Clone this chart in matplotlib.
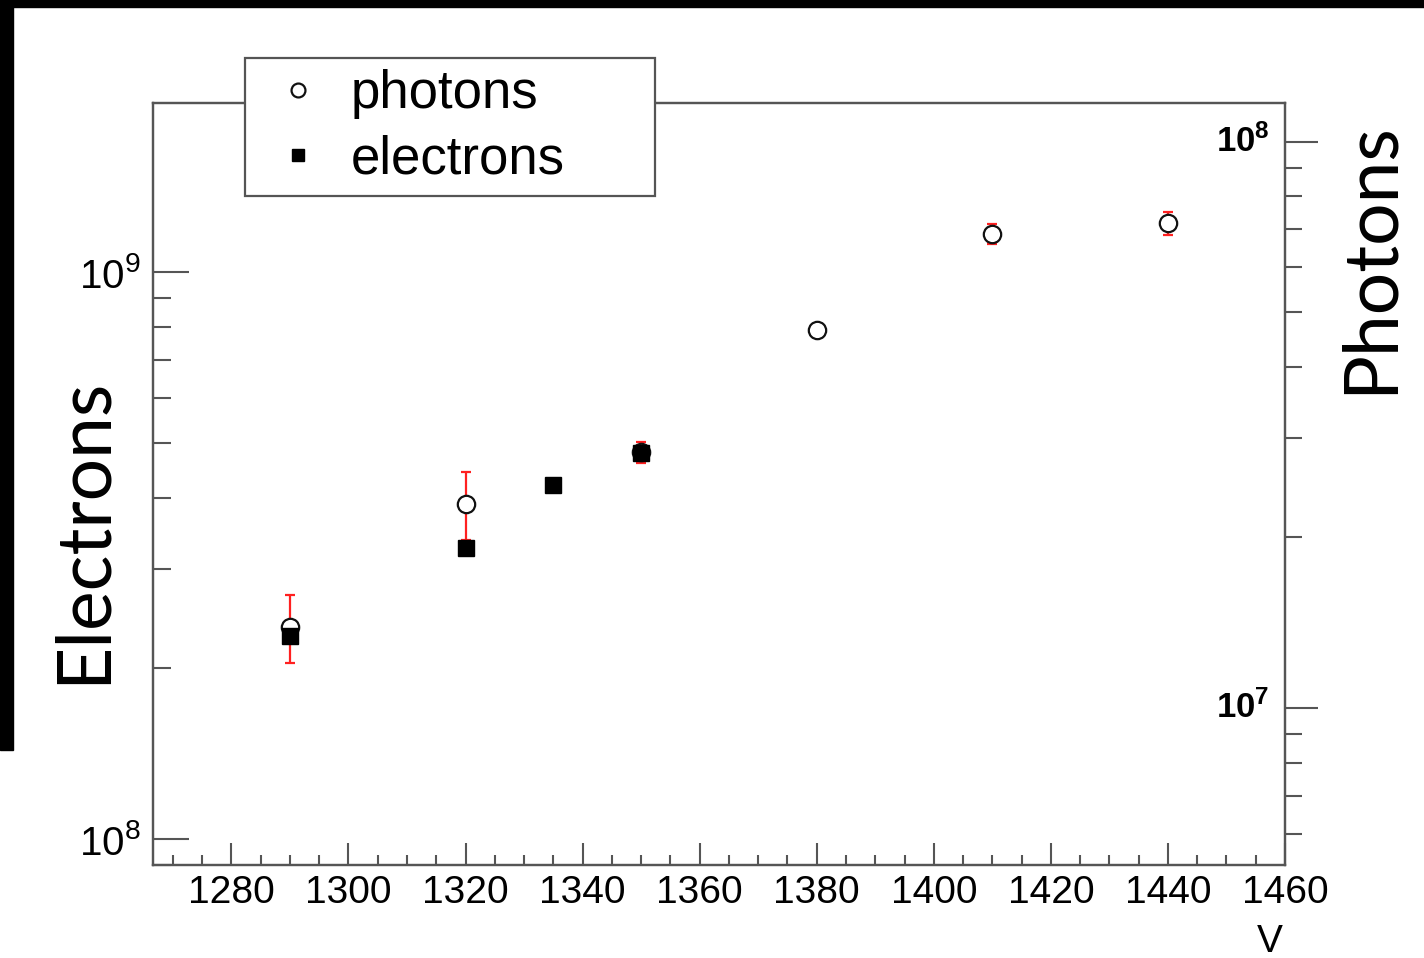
import numpy as np
import matplotlib
matplotlib.use("Agg")
import matplotlib.pyplot as plt
from matplotlib.ticker import LogLocator, NullFormatter, MultipleLocator, FixedLocator
from matplotlib.patches import Rectangle

plt.rcParams['font.family'] = ['Liberation Sans', 'DejaVu Sans']
plt.rcParams['mathtext.fontset'] = 'custom'
plt.rcParams['mathtext.rm'] = 'Liberation Sans'
plt.rcParams['mathtext.bf'] = 'Liberation Sans:bold'
plt.rcParams['mathtext.it'] = 'Liberation Sans:italic'

# ---- data ----
electron_v = [1290, 1320, 1335, 1350]
electrons = [2.28e8, 3.26e8, 4.21e8, 4.80e8]

photon_v = [1290, 1320, 1350, 1380, 1410, 1440]
photons = [1.39e7, 2.29e7, 2.83e7, 4.65e7, 6.88e7, 7.19e7]
photon_err_low = [0.19e7, 0.31e7, 0.12e7, 0.10e7, 0.28e7, 0.34e7]
photon_err_high = [0.19e7, 0.32e7, 0.12e7, 0.10e7, 0.28e7, 0.32e7]

x_ticks = [1280, 1300, 1320, 1340, 1360, 1380, 1400, 1420, 1440, 1460]
left_ticks = [1e8, 1e9]
left_labels = [r'$10^{8}$', r'$10^{9}$']
right_ticks = [1e7, 1e8]
right_labels = [r'$\mathbf{10^{7}}$', r'$\mathbf{10^{8}}$']

W, H = 1424, 958
fig = plt.figure(figsize=(W / 100, H / 100), dpi=100)
fig.patch.set_facecolor('white')

axc = '#555555'
ax = fig.add_axes([153 / W, 1 - 865 / H, (1285 - 153) / W, (865 - 103) / H])
ax2 = ax.twinx()
ax.set_zorder(2)
ax2.set_zorder(1)
ax.patch.set_alpha(0)

# photons on right axis
ax2.errorbar(photon_v, photons, yerr=[photon_err_low, photon_err_high], fmt='none',
             ecolor='#ff2020', elinewidth=1.6, capsize=3.5, capthick=1.6, zorder=2)
ph, = ax2.plot(photon_v, photons, linestyle='none', marker='o', markersize=12.5,
               markerfacecolor='white', markeredgecolor='#111111', markeredgewidth=1.6,
               zorder=3)
# electrons on left axis
el, = ax.plot(electron_v, electrons, linestyle='none', marker='s', markersize=11,
              markerfacecolor='black', markeredgecolor='black', zorder=4)

ax.set_xlim(1266.6, 1460)
ax.set_yscale('log')
ax.set_ylim(9.0e7, 1.99e9)
ax2.set_yscale('log')
ax2.set_ylim(5.28e6, 1.17e8)

for a in (ax, ax2):
    for s in a.spines.values():
        s.set_color(axc)
        s.set_linewidth(1.6)

ax.xaxis.set_major_locator(FixedLocator(x_ticks))
ax.xaxis.set_minor_locator(MultipleLocator(5))
ax.tick_params(axis='x', which='major', direction='in', length=16, width=1.5,
               color=axc, labelsize=28, pad=7, top=False)
ax.tick_params(axis='x', which='minor', direction='in', length=7, width=1.5,
               color=axc, top=False)

ax.yaxis.set_major_locator(FixedLocator(left_ticks))
ax.set_yticklabels(left_labels)
ax.yaxis.set_minor_locator(LogLocator(base=10, subs=np.arange(2, 10)))
ax.yaxis.set_minor_formatter(NullFormatter())
ax.tick_params(axis='y', which='major', direction='in', length=26, width=1.5,
               color=axc, labelsize=29, pad=9, right=False)
ax.tick_params(axis='y', which='minor', direction='in', length=13, width=1.5,
               color=axc, right=False)

ax2.yaxis.set_major_locator(FixedLocator(right_ticks))
ax2.set_yticklabels(right_labels)
ax2.yaxis.set_minor_locator(LogLocator(base=10, subs=np.arange(2, 10)))
ax2.yaxis.set_minor_formatter(NullFormatter())
ax2.tick_params(axis='y', which='major', direction='out', length=24, width=1.5,
                color=axc, labelsize=25, pad=-35)
ax2.tick_params(axis='y', which='minor', direction='out', length=12, width=1.5,
                color=axc)
for lab in ax2.get_yticklabels():
    lab.set_horizontalalignment('right')
    lab.set_verticalalignment('center')

# axis titles
fig.text(83 / W, 1 - 530 / H, 'Electrons', rotation=90, ha='center', va='center',
         fontsize=54, family=['Lato', 'DejaVu Sans'], fontweight='normal')
fig.text(1370 / W, 1 - 258 / H, 'Photons', rotation=90, ha='center', va='center',
         fontsize=54, family=['Lato', 'DejaVu Sans'], fontweight='normal')
fig.text(1270 / W, 1 - 924 / H, 'V', ha='center', va='top', fontsize=28)

# legend
leg = fig.legend([ph, el], ['photons', 'electrons'], loc='upper left',
                 bbox_to_anchor=(245 / W, 1 - 195 / H, (655 - 245) / W, (195 - 58) / H),
                 mode='expand', borderaxespad=0, fontsize=38, frameon=True,
                 fancybox=False, framealpha=1, edgecolor=axc, labelspacing=0.3,
                 borderpad=0.21, handlelength=1.6, handletextpad=0.2, markerscale=0.8)
leg.get_frame().set_linewidth(1.6)
leg.set_zorder(10)

# black border decoration
fig.add_artist(Rectangle((0, 1 - 7 / H), 1, 7 / H, transform=fig.transFigure,
                         color='black', zorder=20))
fig.add_artist(Rectangle((0, 1 - 750 / H), 13 / W, 750 / H, transform=fig.transFigure,
                         color='black', zorder=20))

fig.savefig('out.png', dpi=100, facecolor='white')
